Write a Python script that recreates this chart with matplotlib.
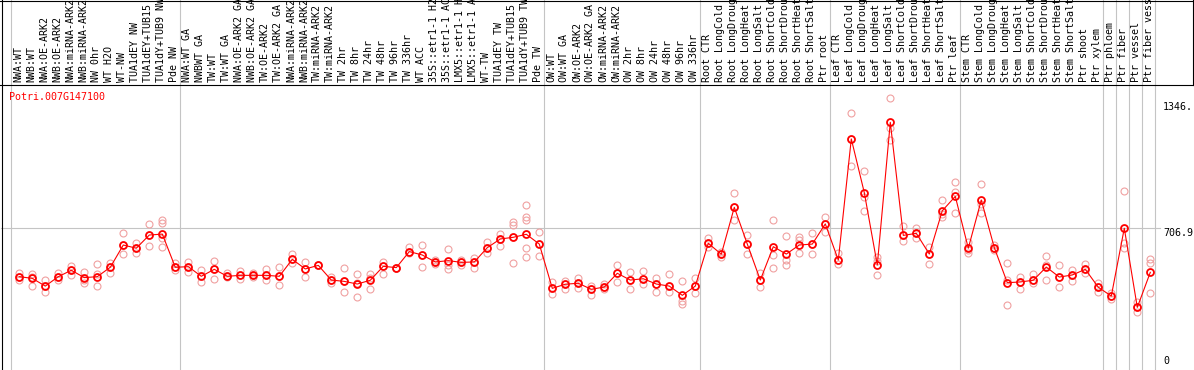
import matplotlib
matplotlib.use('Agg')
import matplotlib.pyplot as plt
import numpy as np
from matplotlib.transforms import blended_transform_factory

# data
gene = 'Potri.007G147100'

samples = [
    'NWA:WT', 'NWB:WT', 'NWA:OE-ARK2', 'NWB:OE-ARK2', 'NWA:miRNA-ARK2', 'NWB:miRNA-ARK2',
    'NW 0hr', 'WT H2O', 'WT-NW', 'TUA1dEY NW', 'TUA1dEY+TUB15 NW', 'TUA1dY+TUB9 NW', 'Pde NW',
    'NWA:WT GA', 'NWBWT GA', 'TW:WT', 'TW:WT GA', 'NWA:OE-ARK2 GA', 'NWB:OE-ARK2 GA',
    'TW:OE-ARK2', 'TW:OE-ARK2 GA', 'NWA:miRNA-ARK2', 'NWB:miRNA-ARK2', 'TW:miRNA-ARK2',
    'TW:miRNA-ARK2', 'TW 2hr', 'TW 8hr', 'TW 24hr', 'TW 48hr', 'TW 96hr', 'TW 336hr', 'WT ACC',
    '35S::etr1-1 H2O', '35S::etr1-1 ACC', 'LMX5::etr1-1 H2O', 'LMX5::etr1-1 ACC', 'WT-TW',
    'TUA1dEY TW', 'TUA1dEY+TUB15 TW', 'TUA1dY+TUB9 TW', 'Pde TW',
    'OW:WT', 'OW:WT GA', 'OW:OE-ARK2', 'OW:OE-ARK2 GA', 'OW:miRNA-ARK2', 'OW:miRNA-ARK2',
    'OW 2hr', 'OW 8hr', 'OW 24hr', 'OW 48hr', 'OW 96hr', 'OW 336hr',
    'Root CTR', 'Root LongCold', 'Root LongDrought', 'Root LongHeat', 'Root LongSalt',
    'Root ShortCold', 'Root ShortDrought', 'Root ShortHeat', 'Root ShortSalt', 'Ptr root',
    'Leaf CTR', 'Leaf LongCold', 'Leaf LongDrought', 'Leaf LongHeat', 'Leaf LongSalt',
    'Leaf ShortCold', 'Leaf ShortDrought', 'Leaf ShortHeat', 'Leaf ShortSalt', 'Ptr leaf',
    'Stem CTR', 'Stem LongCold', 'Stem LongDrought', 'Stem LongHeat', 'Stem LongSalt',
    'Stem ShortCold', 'Stem ShortDrought', 'Stem ShortHeat', 'Stem ShortSalt', 'Ptr shoot',
    'Ptr xylem', 'Ptr phloem', 'Ptr fiber', 'Ptr vessel', 'Ptr fiber vessel',
]
group_sizes = [13, 28, 12, 10, 10, 11, 1, 1, 1, 1]

means = [447, 438, 397, 447, 481, 442, 447, 497, 615, 598,
         668, 673, 497, 500, 449, 486, 449, 454, 454, 454,
         449, 539, 488, 507, 429, 422, 408, 428, 502, 495,
         580, 562, 525, 532, 523, 525, 601, 647, 656, 672,
         620, 385, 407, 412, 380, 392, 465, 429, 436, 408,
         397, 348, 397, 624, 566, 815, 620, 429, 606, 567,
         615, 620, 727, 535, 1178, 893, 509, 1266, 666, 677,
         567, 797, 873, 598, 854, 601, 415, 419, 428, 498,
         445, 456, 486, 391, 344, 704, 284, 470]

reps = [
    [468, 429, 447], [461, 399, 444], [429, 364, 397], [468, 429, 447], [505, 454, 481],
    [473, 415, 429], [514, 461, 396], [521, 465, 497], [677, 566, 615], [627, 571, 598],
    [727, 610, 668], [748, 733, 651, 606], [518, 482, 497], [526, 473, 500], [482, 420, 449],
    [530, 433, 486], [468, 444, 449], [477, 433, 454], [465, 447, 454], [488, 429, 454],
    [497, 401, 449], [567, 518, 539], [526, 444, 488], [507, 507, 507], [444, 415, 429],
    [491, 364, 422], [461, 341, 415], [461, 382, 440], [526, 461, 502], [495, 495, 495],
    [603, 574, 580], [615, 497, 562], [535, 514, 525], [592, 507, 489], [535, 507, 523],
    [544, 491, 525], [633, 574, 601], [672, 610, 647], [739, 721, 521, 656],
    [827, 762, 748, 598, 553], [682, 557, 620],
    [417, 353, 385], [424, 382, 407], [438, 385, 412], [397, 350, 380], [408, 380, 392],
    [509, 417, 465], [470, 383, 429], [477, 408, 436], [442, 366, 408], [461, 366, 397],
    [424, 318, 302], [438, 359, 397],
    [654, 606, 624], [576, 550, 566], [889, 748, 815], [668, 567, 620], [468, 391, 429],
    [748, 562, 491], [663, 535, 509], [659, 571, 640], [677, 567, 620], [765, 686, 727],
    [571, 513, 535], [1314, 1034, 1178], [1008, 868, 796], [553, 456, 530], [1394, 1238, 1172],
    [716, 636, 666], [707, 654, 677], [606, 514, 567], [854, 765, 780], [948, 895, 783],
    [633, 574, 590], [937, 831, 783], [615, 589, 601], [518, 429, 295], [447, 380, 419],
    [460, 412, 428], [557, 429, 510], [509, 391, 445], [482, 424, 456], [513, 465, 486],
    [412, 367, 391], [359, 327, 344], [902, 624, 598], [314, 258, 284], [541, 518, 362],
]

y_ticks = [1346, 706.9, 0]
y_tick_labels = ['1346.', '706.9', '0']
grid_value = 706.9

# layout in pixels
W, H = 1194, 370
head_h = 85
x0, dx = 19.3, 13.0          # pixel x of first sample, spacing
zero_px, px_unit = 360.9, 1 / 5.307
mono = 'DejaVu Sans Mono'
fs = 7.2
grey = '#c4c4c4'

xlim = (-x0 / dx, (W - x0) / dx)
ylim = (-(H - zero_px) / px_unit, (zero_px - head_h) / px_unit)

fig = plt.figure(figsize=(W / 100, H / 100), dpi=100)

# header with rotated sample names
hx = fig.add_axes([0, 1 - head_h / H, 1, head_h / H])
hx.set_xlim(xlim)
hx.set_ylim(head_h, 0)
hx.axis('off')
for i, lab in enumerate(samples):
    hx.text(i - 0.1, 82.5, lab, rotation=90, ha='center', va='bottom',
            fontsize=fs, family=mono, color='black')

# data panel
ax = fig.add_axes([0, 0, 1, 1 - head_h / H])
ax.set_xlim(xlim)
ax.set_ylim(ylim)
ax.axis('off')

bounds = np.cumsum([0] + group_sizes) - 0.62
for b in bounds:
    ax.axvline(b, color=grey, lw=0.8, zorder=0)
    hx.axvline(b, color=grey, lw=0.8, zorder=0)

ax.axhline(grid_value, xmin=1 / W, xmax=1160 / W, color=grey, lw=0.8, zorder=0)

for i, r in enumerate(reps):
    ax.plot([i] * len(r), r, 'o', mfc='none', mec='#f0a0a0', ms=5, mew=0.8, zorder=2)

ax.plot(range(len(means)), means, '-', color='red', lw=0.8, marker='o',
        mfc='none', mec='red', ms=5, mew=1.3, zorder=3)

tr = blended_transform_factory(ax.transAxes, ax.transData)
for v, lab in zip(y_ticks, y_tick_labels):
    va = 'top' if v == grid_value else 'center'
    ax.text(1163 / W, v, lab, transform=tr, ha='left', va=va,
            fontsize=fs, family=mono, color='black')

# black frame lines in pixel coords
ov = fig.add_axes([0, 0, 1, 1])
ov.set_xlim(0, W)
ov.set_ylim(H, 0)
ov.axis('off')
ov.patch.set_alpha(0)
ov.plot([1.5, 1.5], [0, H], color='black', lw=0.8)
ov.plot([0, W], [0.5, 0.5], color='black', lw=0.8)
ov.plot([0, W], [84.5, 84.5], color='black', lw=0.8)
ov.plot([W - 1.5, W - 1.5], [0, head_h], color='black', lw=0.8)
ov.text(9, 97, gene, color='red', ha='left', va='center', fontsize=fs, family=mono)

fig.savefig('out.png', dpi=100)
